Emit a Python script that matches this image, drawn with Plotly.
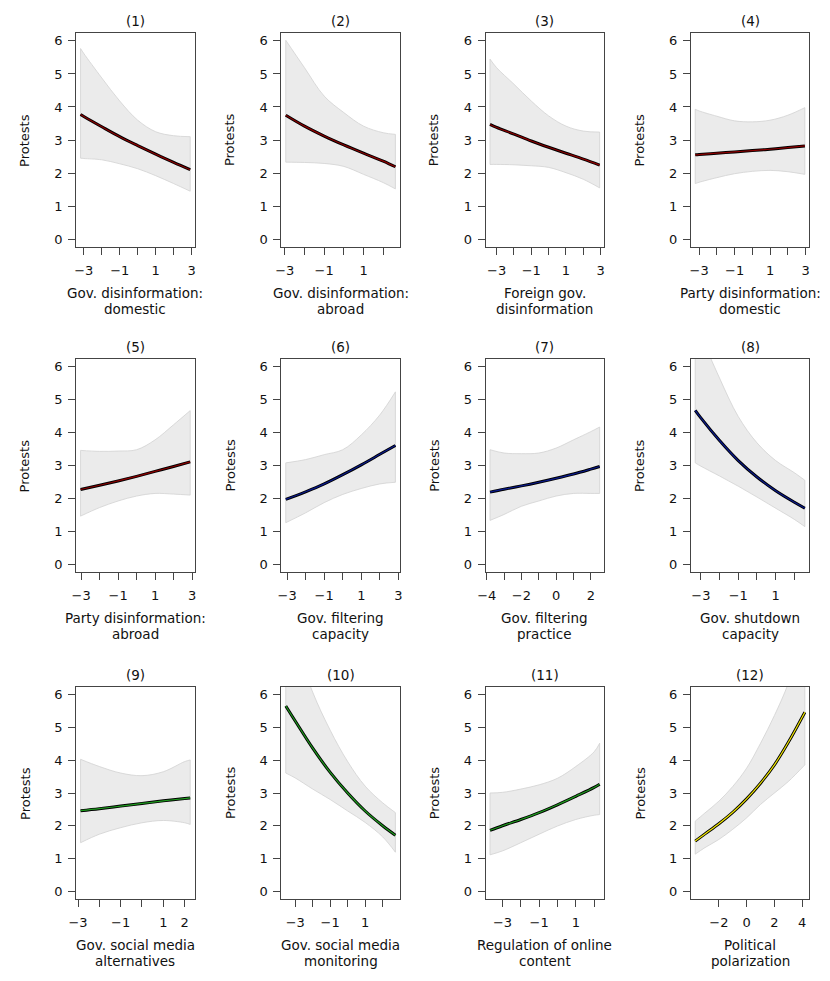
import plotly.graph_objects as go
from plotly.subplots import make_subplots

# Predicted protests with 95% band
x1 = [-3.18, -3, -2, -1, 0, 1, 2, 2.92]
fit1 = [3.77, 3.71, 3.40, 3.10, 2.83, 2.57, 2.32, 2.10]
up1 = [5.77, 5.62, 4.88, 4.18, 3.60, 3.25, 3.13, 3.10]
lo1 = [2.45, 2.44, 2.40, 2.28, 2.13, 1.92, 1.68, 1.45]

x2 = [-2.95, -2, -1, 0, 1, 2, 2.62]
fit2 = [3.75, 3.42, 3.12, 2.85, 2.60, 2.36, 2.19]
up2 = [6.02, 5.19, 4.33, 3.83, 3.42, 3.22, 3.17]
lo2 = [2.33, 2.32, 2.29, 2.20, 1.96, 1.71, 1.52]

x3 = [-3.38, -3, -2, -1, 0, 1, 2, 2.94]
fit3 = [3.47, 3.38, 3.18, 2.97, 2.78, 2.60, 2.42, 2.24]
up3 = [5.45, 5.19, 4.69, 4.18, 3.73, 3.42, 3.27, 3.24]
lo3 = [2.26, 2.26, 2.25, 2.22, 2.17, 2.01, 1.81, 1.55]

x4 = [-3.22, -3, -2, -1, 0, 1, 2, 2.96]
fit4 = [2.55, 2.56, 2.60, 2.64, 2.68, 2.72, 2.77, 2.82]
up4 = [3.93, 3.88, 3.72, 3.58, 3.55, 3.60, 3.75, 3.98]
lo4 = [1.68, 1.72, 1.86, 1.98, 2.05, 2.08, 2.04, 1.96]

x5 = [-3.03, -2, -1, 0, 1, 2, 2.9]
fit5 = [2.27, 2.40, 2.53, 2.67, 2.82, 2.97, 3.11]
up5 = [3.46, 3.43, 3.44, 3.48, 3.78, 4.24, 4.67]
lo5 = [1.46, 1.72, 1.92, 2.07, 2.15, 2.13, 2.10]

x6 = [-3.07, -2, -1, 0, 1, 2, 2.84]
fit6 = [1.97, 2.20, 2.44, 2.72, 3.02, 3.34, 3.61]
up6 = [3.08, 3.18, 3.33, 3.48, 3.93, 4.54, 5.24]
lo6 = [1.26, 1.56, 1.87, 2.12, 2.30, 2.44, 2.49]

x7 = [-3.81, -3, -2, -1, 0, 1, 2, 2.51]
fit7 = [2.19, 2.28, 2.38, 2.49, 2.61, 2.74, 2.89, 2.97]
up7 = [3.48, 3.38, 3.36, 3.38, 3.53, 3.78, 4.03, 4.17]
lo7 = [1.33, 1.51, 1.76, 1.92, 2.07, 2.15, 2.15, 2.15]

x8 = [-3.3, -3, -2, -1, 0, 1, 2, 2.56]
fit8 = [4.68, 4.45, 3.76, 3.15, 2.65, 2.23, 1.88, 1.70]
up8 = [7.6, 7.0, 5.66, 4.49, 3.69, 3.15, 2.78, 2.55]
lo8 = [3.08, 2.98, 2.68, 2.37, 2.04, 1.70, 1.36, 1.14]

x9 = [-2.88, -2, -1, 0, 1, 2, 2.26]
fit9 = [2.46, 2.52, 2.60, 2.68, 2.76, 2.83, 2.85]
up9 = [4.03, 3.81, 3.61, 3.53, 3.65, 3.96, 4.01]
lo9 = [1.48, 1.74, 1.94, 2.09, 2.16, 2.09, 2.04]

x10 = [-3.54, -3, -2, -1, 0, 1, 2, 2.73]
fit10 = [5.66, 5.20, 4.37, 3.63, 3.00, 2.45, 2.00, 1.71]
up10 = [8.6, 7.6, 6.08, 4.92, 3.96, 3.21, 2.70, 2.40]
lo10 = [3.61, 3.46, 3.12, 2.80, 2.45, 2.10, 1.66, 1.19]

x11 = [-3.68, -3, -2, -1, 0, 1, 2, 2.3]
fit11 = [1.86, 2.00, 2.19, 2.40, 2.64, 2.90, 3.17, 3.27]
up11 = [3.00, 3.02, 3.12, 3.25, 3.45, 3.81, 4.26, 4.52]
lo11 = [1.11, 1.23, 1.48, 1.74, 1.99, 2.19, 2.32, 2.34]

x12 = [-3.7, -3, -2, -1, 0, 1, 2, 3, 4.19]
fit12 = [1.53, 1.75, 2.06, 2.41, 2.82, 3.30, 3.86, 4.55, 5.47]
up12 = [2.14, 2.39, 2.75, 3.20, 3.76, 4.52, 5.37, 6.35, 7.9]
lo12 = [1.13, 1.33, 1.58, 1.89, 2.24, 2.65, 3.00, 3.35, 3.86]

titles = ["(1)", "(2)", "(3)", "(4)", "(5)", "(6)",
          "(7)", "(8)", "(9)", "(10)", "(11)", "(12)"]
xlabels = [
    ("Gov. disinformation:", "domestic"),
    ("Gov. disinformation:", "abroad"),
    ("Foreign gov.", "disinformation"),
    ("Party disinformation:", "domestic"),
    ("Party disinformation:", "abroad"),
    ("Gov. filtering", "capacity"),
    ("Gov. filtering", "practice"),
    ("Gov. shutdown", "capacity"),
    ("Gov. social media", "alternatives"),
    ("Gov. social media", "monitoring"),
    ("Regulation of online", "content"),
    ("Political", "polarization"),
]
ylabel = "Protests"

# x ticks (R skips some labels when they would overlap)
t7 = [-3, -2, -1, 0, 1, 2, 3]
l7 = ["\u22123", "", "\u22121", "", "1", "", "3"]
t6 = [-3, -2, -1, 0, 1, 2]
l6 = ["\u22123", "", "\u22121", "", "1", ""]
xticks = [t7, t6, t7, t7, t7, t7,
          [-4, -3, -2, -1, 0, 1, 2], t6, t6, t6, t6, [-2, 0, 2, 4]]
xticktext = [l7, l6, l7, l7, l7, l7,
             ["\u22124", "", "\u22122", "", "0", "", "2"], l6,
             ["\u22123", "", "\u22121", "", "1", "2"], l6, l6,
             ["\u22122", "0", "2", "4"]]
yticks = [0, 1, 2, 3, 4, 5, 6]

colors = ["#8b0000"] * 5 + ["#0a1a8c"] * 3 + ["#1e9a1e"] * 3 + ["#f0e600"]

panels = [(x1, fit1, up1, lo1), (x2, fit2, up2, lo2), (x3, fit3, up3, lo3),
          (x4, fit4, up4, lo4), (x5, fit5, up5, lo5), (x6, fit6, up6, lo6),
          (x7, fit7, up7, lo7), (x8, fit8, up8, lo8), (x9, fit9, up9, lo9),
          (x10, fit10, up10, lo10), (x11, fit11, up11, lo11),
          (x12, fit12, up12, lo12)]

# the page body adds an 8px margin, so the figure is 8px smaller and
# reference pixel positions are shifted by that offset
OFF = 8
W, H = 830 - OFF, 981 - OFF
col_left = [69, 277, 484, 692]
box_w = 120
rows_px = [(33, 247), (359, 572), (687, 899)]
FONT = "DejaVu Sans"
AX = "#444444"
TXT = "#111111"
BAND_EDGE = "#d2d2d2"


def px(v):
    return (v - OFF) / W


def py(v):
    return 1 - (v - OFF) / H


fig = make_subplots(rows=3, cols=4)

for i, (xs, fit, up, lo) in enumerate(panels):
    r, c = i // 4 + 1, i % 4 + 1
    # confidence band
    fig.add_trace(go.Scatter(x=xs, y=lo, mode="lines",
                             line=dict(color=BAND_EDGE, width=0.8, shape="spline"),
                             hoverinfo="skip", showlegend=False), row=r, col=c)
    fig.add_trace(go.Scatter(x=xs, y=up, mode="lines", fill="tonexty",
                             fillcolor="#ebebeb",
                             line=dict(color=BAND_EDGE, width=0.8, shape="spline"),
                             hoverinfo="skip", showlegend=False), row=r, col=c)
    # straight ends of the band polygon
    for k in (0, -1):
        fig.add_trace(go.Scatter(x=[xs[k], xs[k]], y=[lo[k], up[k]], mode="lines",
                                 line=dict(color=BAND_EDGE, width=0.8),
                                 hoverinfo="skip", showlegend=False), row=r, col=c)
    # fitted line: black outline with coloured core
    fig.add_trace(go.Scatter(x=xs, y=fit, mode="lines",
                             line=dict(color="black", width=3.0, shape="spline"),
                             showlegend=False), row=r, col=c)
    fig.add_trace(go.Scatter(x=xs, y=fit, mode="lines",
                             line=dict(color=colors[i], width=1.2, shape="spline"),
                             showlegend=False), row=r, col=c)

    left = col_left[c - 1]
    top, bottom = rows_px[r - 1]
    span = max(xs) - min(xs)
    xr = [min(xs) - 0.04 * span, max(xs) + 0.04 * span]
    ax_x = "xaxis" if i == 0 else "xaxis%d" % (i + 1)
    ax_y = "yaxis" if i == 0 else "yaxis%d" % (i + 1)
    fig.layout[ax_x].update(
        domain=[px(left), px(left + box_w)], range=xr,
        tickvals=xticks[i], ticktext=xticktext[i],
        ticks="outside", ticklen=7, tickwidth=1, tickcolor=AX,
        showline=True, mirror=True, linecolor=AX, linewidth=1,
        showgrid=False, zeroline=False, ticklabelstandoff=4,
        tickfont=dict(family=FONT, size=13, color=TXT))
    fig.layout[ax_y].update(
        domain=[py(bottom), py(top)], range=[-0.24, 6.24],
        tickvals=yticks, ticktext=[str(v) for v in yticks],
        ticks="outside", ticklen=7, tickwidth=1, tickcolor=AX,
        showline=True, mirror=True, linecolor=AX, linewidth=1,
        showgrid=False, zeroline=False, ticklabelstandoff=3,
        tickfont=dict(family=FONT, size=13, color=TXT))

    cx = px(left + box_w / 2)
    fig.add_annotation(x=cx, y=py(top - 12), xref="paper", yref="paper",
                       text=titles[i], showarrow=False, xanchor="center",
                       yanchor="middle", font=dict(family=FONT, size=13.5, color=TXT))
    fig.add_annotation(x=cx, y=py(bottom + 46), xref="paper", yref="paper",
                       text=xlabels[i][0], showarrow=False, xanchor="center",
                       yanchor="middle", font=dict(family=FONT, size=13.5, color=TXT))
    fig.add_annotation(x=cx, y=py(bottom + 62), xref="paper", yref="paper",
                       text=xlabels[i][1], showarrow=False, xanchor="center",
                       yanchor="middle", font=dict(family=FONT, size=13.5, color=TXT))
    fig.add_annotation(x=px(left - 52), y=py((top + bottom) / 2),
                       xref="paper", yref="paper", text=ylabel, textangle=-90,
                       showarrow=False, xanchor="center", yanchor="middle",
                       font=dict(family=FONT, size=13, color=TXT))

fig.update_layout(width=W, height=H, margin=dict(l=0, r=0, t=0, b=0),
                  plot_bgcolor="white", paper_bgcolor="white",
                  font=dict(family=FONT), showlegend=False)

fig.write_html("out.html")
